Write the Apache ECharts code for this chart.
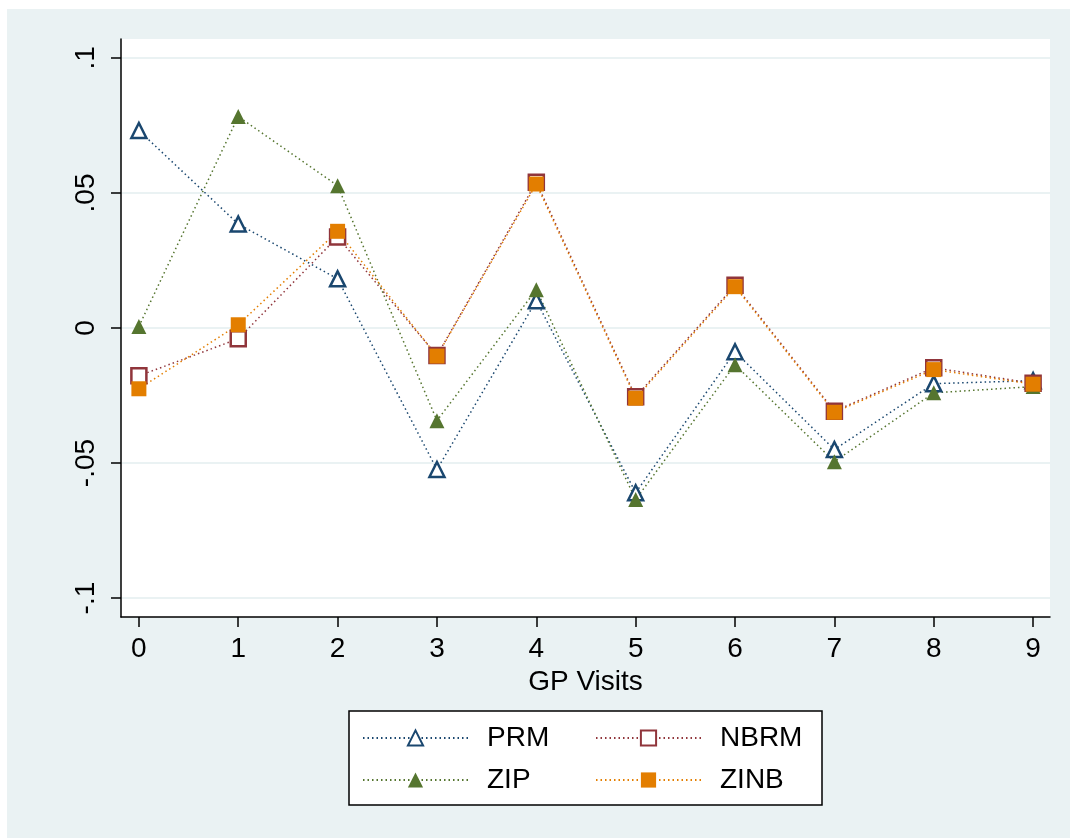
<!DOCTYPE html>
<html>
<head>
<meta charset="utf-8">
<script src="https://cdn.jsdelivr.net/npm/echarts@6/dist/echarts.min.js"></script>
<style>
html,body{margin:0;padding:0;background:#fff;}
#chart{width:1070px;height:838px;}
</style>
</head>
<body>
<div id="chart"></div>
<script>
const gpVisits = [0, 1, 2, 3, 4, 5, 6, 7, 8, 9];
const prm  = [0.0731, 0.0385, 0.0182, -0.0524, 0.0101, -0.0610, -0.0088, -0.0450, -0.0206, -0.0195];
const nbrm = [-0.0177, -0.0040, 0.0337, -0.0102, 0.0540, -0.0255, 0.0158, -0.0308, -0.0147, -0.0205];
const zip  = [0.0006, 0.0783, 0.0527, -0.0343, 0.0142, -0.0635, -0.0136, -0.0495, -0.0240, -0.0217];
const zinb = [-0.0225, 0.0012, 0.0358, -0.0104, 0.0533, -0.0260, 0.0153, -0.0312, -0.0154, -0.0208];
const yTickValues = [-0.1, -0.05, 0, 0.05, 0.1];
const yTickLabels = ['-.1', '-.05', '0', '.05', '.1'];
const seriesNames = ['PRM', 'NBRM', 'ZIP', 'ZINB'];

const FONT = 'Liberation Sans, Arial, sans-serif';
const colors = {PRM: '#1a476f', NBRM: '#90353b', ZIP: '#55752f', ZINB: '#e37e00'};

function pairs(arr) { return gpVisits.map((x, i) => [x, arr[i]]); }

function mkSeries(name, data, symbol, hollow) {
  const c = colors[name];
  return {
    name: name,
    type: 'line',
    data: pairs(data),
    symbol: symbol,
    symbolSize: 15,
    showAllSymbol: true,
    lineStyle: {color: c, width: 1.5, type: [1.5, 3]},
    itemStyle: hollow ? {color: '#fff', borderColor: c, borderWidth: 2.5} : {color: c, borderWidth: 0},
    emphasis: {disabled: true},
    animation: false
  };
}

const legendCommon = {
  orient: 'vertical', top: 723, z: 10,
  itemWidth: 105, itemHeight: 19, itemGap: 12,
  textStyle: {fontFamily: FONT, fontSize: 28, color: '#000', lineHeight: 30, padding: [0, 0, 0, 14]},
  selectedMode: false, padding: 0
};

const chart = echarts.init(document.getElementById('chart'), null, {renderer: 'canvas'});
const option = {
  animation: false,
  backgroundColor: '#fff',
  graphic: [
    {type: 'rect', z: -10, shape: {x: 7, y: 9, width: 1063, height: 829}, style: {fill: '#eaf2f3'}},
    {type: 'rect', z: 5, shape: {x: 349, y: 711, width: 473, height: 94}, style: {fill: '#fff', stroke: '#000', lineWidth: 1.5}}
  ],
  grid: {left: 121, right: 20, top: 39, bottom: 221, show: true, backgroundColor: '#fff', borderWidth: 0},
  xAxis: {
    type: 'value',
    min: -0.18, max: 9.17,
    name: 'GP Visits',
    nameLocation: 'middle',
    nameGap: 45,
    nameTextStyle: {fontFamily: FONT, fontSize: 28, color: '#000'},
    axisLine: {show: true, onZero: false, lineStyle: {color: '#000', width: 1.5}},
    axisTick: {show: true, length: 10, lineStyle: {color: '#000', width: 1.5}, customValues: gpVisits},
    axisLabel: {fontFamily: FONT, fontSize: 28, color: '#000', margin: 18, customValues: gpVisits,
      formatter: v => String(v)},
    splitLine: {show: false}
  },
  yAxis: {
    type: 'value',
    min: -0.107, max: 0.107,
    axisLine: {show: true, onZero: false, lineStyle: {color: '#000', width: 1.5}},
    axisTick: {show: true, length: 10, lineStyle: {color: '#000', width: 1.5}, customValues: yTickValues},
    axisLabel: {fontFamily: FONT, fontSize: 28, color: '#000', margin: 21, rotate: 90, customValues: yTickValues,
      formatter: v => { const i = yTickValues.findIndex(t => Math.abs(t - v) < 1e-9); return i >= 0 ? yTickLabels[i] : ''; }},
    splitLine: {show: true, lineStyle: {color: '#eaf2f3', width: 2}}
  },
  legend: [
    Object.assign({data: ['PRM', 'ZIP'], left: 362}, legendCommon),
    Object.assign({data: ['NBRM', 'ZINB'], left: 595}, legendCommon)
  ],
  series: [
    mkSeries('PRM', prm, 'triangle', true),
    mkSeries('NBRM', nbrm, 'rect', true),
    mkSeries('ZIP', zip, 'triangle', false),
    mkSeries('ZINB', zinb, 'rect', false)
  ]
};
chart.setOption(option);
</script>
</body>
</html>
